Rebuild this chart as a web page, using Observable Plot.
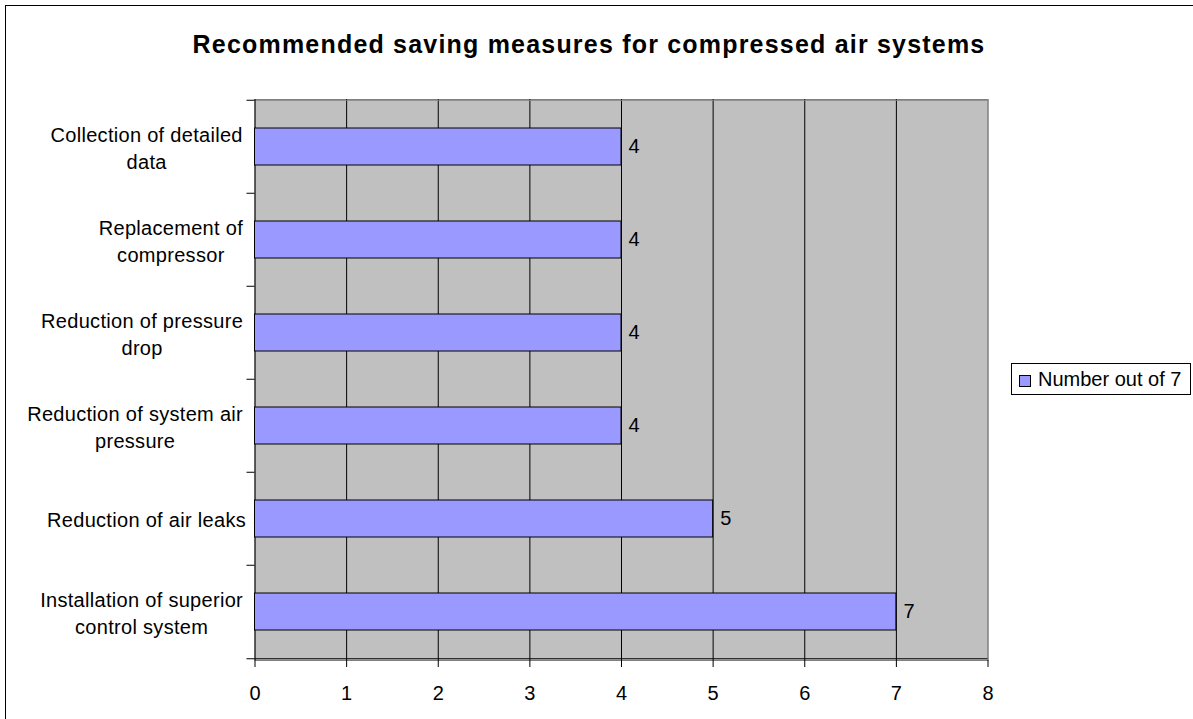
<!DOCTYPE html>
<html>
<head>
<meta charset="utf-8">
<script src="https://cdn.jsdelivr.net/npm/d3@7"></script>
<script src="https://cdn.jsdelivr.net/npm/@observablehq/plot@0.6"></script>
<style>
  html, body { margin: 0; padding: 0; background: #fff; overflow: hidden; }
  body { width: 1193px; height: 719px; position: relative; font-family: "Liberation Sans", Arial, sans-serif; }
  #frame { position: absolute; left: 5px; top: 5px; width: 1400px; height: 900px; border: 1.5px solid #000; box-sizing: border-box; }
  #title { position: absolute; left: 0; top: 30px; width: 1178px; text-align: center; font-weight: bold; font-size: 25px; letter-spacing: 1.2px; color: #000; white-space: nowrap; }
  #chart { position: absolute; left: 0; top: 0; }
  #legend { position: absolute; left: 1011px; top: 363px; width: 180px; height: 32px; border: 1px solid #000; box-sizing: border-box; background: #fff; font-size: 20px; }
  #legend .sw { position: absolute; left: 7px; top: 11px; width: 12px; height: 12px; background: #9999FF; border: 1px solid #000; box-sizing: border-box; }
  #legend .lbl { position: absolute; left: 26px; top: 4px; line-height: 22px; white-space: nowrap; }
  .catlabel text { letter-spacing: 0.3px; }
</style>
</head>
<body>
<div id="frame"></div>
<div id="chart"></div>
<div id="title"></div>
<div id="legend"><div class="sw"></div><div class="lbl"></div></div>
<script>
// ---- data ----
const categories = [
  "Collection of detailed data",
  "Replacement of compressor",
  "Reduction of pressure drop",
  "Reduction of system air pressure",
  "Reduction of air leaks",
  "Installation of superior control system"
];
const categoryLabels = [
  "Collection of detailed\ndata",
  "Replacement of\ncompressor",
  "Reduction of pressure\ndrop",
  "Reduction of system air\npressure",
  "Reduction of air leaks",
  "Installation of superior\ncontrol system"
];
const values = [4, 4, 4, 4, 5, 7];
const xTicks = [0, 1, 2, 3, 4, 5, 6, 7, 8];
const seriesName = "Number out of 7";
const titleText = "Recommended saving measures for compressed air systems";

const data = categories.map((c, i) => ({category: c, label: categoryLabels[i], value: values[i]}));

document.getElementById("title").textContent = titleText;
document.querySelector("#legend .lbl").textContent = seriesName;

const W = 1193, H = 719;
const mTop = 99, mBottom = 59, mLeft = 254.5, mRight = 205.5;
const step = (H - mTop - mBottom) / categories.length;

const gridTicks = xTicks.filter(t => t > 0 && t < 8);

const chart = Plot.plot({
  width: W,
  height: H,
  marginTop: mTop,
  marginBottom: mBottom,
  marginLeft: mLeft,
  marginRight: mRight,
  style: {fontFamily: "'Liberation Sans', Arial, sans-serif", fontSize: "20px", background: "transparent", color: "#000"},
  x: {domain: [0, 8], ticks: xTicks, label: null},
  y: {domain: categories, paddingInner: 0.6, paddingOuter: 0.3, align: 0.5, label: null, axis: null},
  marks: [
    Plot.frame({fill: "#C0C0C0", stroke: "#808080"}),
    Plot.ruleX(gridTicks, {stroke: "#000", strokeWidth: 1}),
    Plot.ruleX([8], {stroke: "#808080", strokeWidth: 1}),
    Plot.ruleY([categories[0]], {dy: -step / 2, stroke: "#808080"}),
    Plot.ruleY([categories[categories.length - 1]], {dy: step / 2, stroke: "#000"}),
    Plot.ruleX([0], {stroke: "#000", strokeWidth: 1}),
    // category boundary tick marks
    Plot.ruleY(categories, {y: d => d, x1: 0, x2: 0, insetLeft: -8, dy: -step / 2, stroke: "#000"}),
    Plot.ruleY([categories[categories.length - 1]], {y: d => d, x1: 0, x2: 0, insetLeft: -8, dy: step / 2, stroke: "#000"}),
    Plot.barX(data, {x: "value", y: "category", fill: "#9999FF", stroke: "#000", strokeWidth: 1}),
    Plot.text(data, {x: "value", y: "category", text: d => String(d.value), textAnchor: "start", dx: 7, fontSize: 20, fill: "#000"}),
    Plot.text(data, {y: "category", text: "label", frameAnchor: "left", textAnchor: "end", dx: -9, fontSize: 20, lineHeight: 1.32, fill: "#000", className: "catlabel"}),
    Plot.axisX({ticks: xTicks, tickSize: 7, tickPadding: 18, fontSize: 20, stroke: "#000", label: null})
  ]
});
document.getElementById("chart").appendChild(chart);

// Excel-style wrapped labels: lines centred in a block whose first line keeps its trailing space
const spaceW = 0.278 * 20 + 0.3;
chart.querySelectorAll("g.catlabel text").forEach(t => {
  if (t.querySelectorAll("tspan").length < 2) return;
  const w = t.getBBox().width + spaceW;
  t.setAttribute("text-anchor", "middle");
  const tr = t.getAttribute("transform") || "";
  t.setAttribute("transform", tr + ` translate(${-w / 2},0)`);
});
</script>
</body>
</html>
